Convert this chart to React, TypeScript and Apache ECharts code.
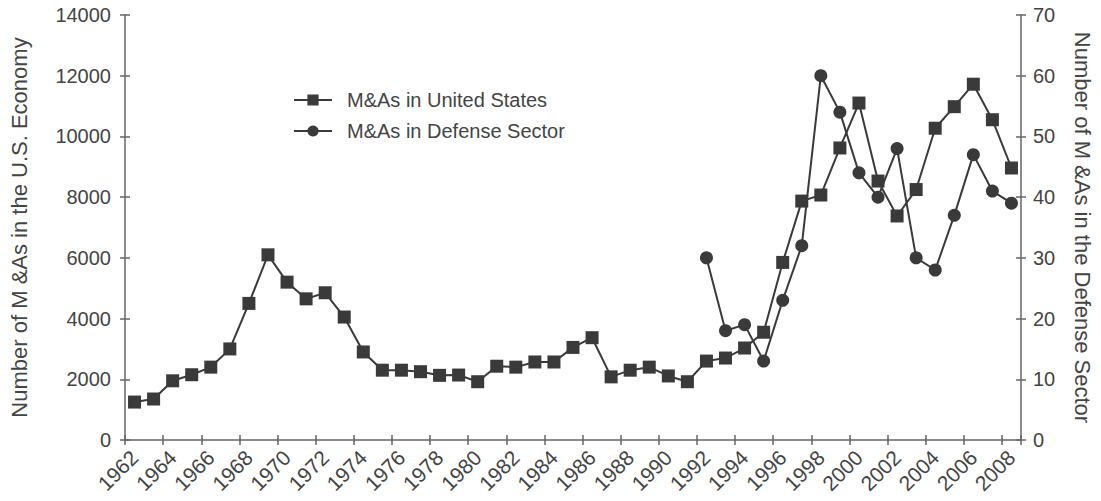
import React, { useEffect, useRef } from "react";
import * as echarts from "echarts";

const years: string[] = [];
for (let y = 1962; y <= 2008; y++) years.push(String(y));

const usMAs: number[] = [
  1250, 1350, 1950, 2150, 2400, 3000, 4500, 6100, 5200, 4650,
  4850, 4050, 2900, 2300, 2300, 2250, 2130, 2140, 1920, 2430,
  2400, 2570, 2570, 3050, 3370, 2080, 2300, 2400, 2110, 1920,
  2600, 2700, 3030, 3550, 5850, 7870, 8070, 9620, 11100, 8530,
  7380, 8250, 10270, 10980, 11720, 10550, 8960,
];

const defenseYears: string[] = [
  "1992", "1993", "1994", "1995", "1996", "1997", "1998", "1999", "2000",
  "2001", "2002", "2003", "2004", "2005", "2006", "2007", "2008",
];
const defenseMAs: number[] = [30, 18, 19, 13, 23, 32, 60, 54, 44, 40, 48, 30, 28, 37, 47, 41, 39];

const leftName = "Number of M &As in the U.S. Economy";
const rightName = "Number of M &As in the Defense Sector";
const usLabel = "M&As in United States";
const defLabel = "M&As in Defense Sector";

const FONT = "Liberation Sans, Arial, Helvetica, sans-serif";
const INK = "#3a3a3a";
const AXIS = "#666";
const TXT = "#444";

export default function App() {
  const ref = useRef<HTMLDivElement>(null);
  useEffect(() => {
    if (!ref.current) return;
    const chart = echarts.init(ref.current, undefined, { renderer: "svg" });
    const defenseData = years.map((y) => {
      const i = defenseYears.indexOf(y);
      return i >= 0 ? defenseMAs[i] : null;
    });
    const plain = (v: number) => String(v);
    chart.setOption({
      animation: false,
      backgroundColor: "#fff",
      textStyle: { fontFamily: FONT },
      grid: { left: 125, right: 78, top: 15, bottom: 61, containLabel: false },
      legend: {
        orient: "vertical",
        left: 288,
        top: 85,
        itemWidth: 38,
        itemHeight: 14,
        itemGap: 11,
        data: [usLabel, defLabel],
        textStyle: { fontSize: 20, color: TXT, fontFamily: FONT, padding: [0, 0, 0, 10], lineHeight: 20 },
      },
      xAxis: [
        {
          type: "category",
          data: years,
          boundaryGap: true,
          position: "bottom",
          axisLine: { lineStyle: { color: AXIS, width: 1.5 } },
          axisTick: { show: true, length: 5, lineStyle: { color: AXIS, width: 1.5 } },
          axisLabel: { interval: 1, rotate: 45, fontSize: 21, color: TXT, fontFamily: FONT, margin: 14 },
          splitLine: { show: false },
        },
        {
          type: "category",
          data: years,
          boundaryGap: true,
          position: "bottom",
          axisLine: { show: false },
          axisTick: { show: true, inside: true, length: 5, lineStyle: { color: AXIS, width: 1.5 } },
          axisLabel: { show: false },
          splitLine: { show: false },
        },
      ],
      yAxis: [
        {
          type: "value",
          position: "left",
          min: 0,
          max: 14000,
          interval: 2000,
          name: leftName,
          nameLocation: "middle",
          nameRotate: 90,
          nameGap: 95,
          nameTextStyle: { fontSize: 22, color: TXT, fontFamily: FONT },
          axisLine: { show: true, lineStyle: { color: AXIS, width: 1.5 } },
          axisTick: { show: true, length: 5, lineStyle: { color: AXIS, width: 1.5 } },
          axisLabel: { fontSize: 20, color: TXT, fontFamily: FONT, margin: 14, formatter: plain },
          splitLine: { show: false },
        },
        {
          type: "value",
          position: "right",
          min: 0,
          max: 70,
          interval: 10,
          name: rightName,
          nameLocation: "middle",
          nameRotate: -90,
          nameGap: 50,
          nameTextStyle: { fontSize: 22, color: TXT, fontFamily: FONT },
          axisLine: { show: true, lineStyle: { color: AXIS, width: 1.5 } },
          axisTick: { show: true, length: 5, lineStyle: { color: AXIS, width: 1.5 } },
          axisLabel: { fontSize: 20, color: TXT, fontFamily: FONT, margin: 12, formatter: plain },
          splitLine: { show: false },
        },
        {
          type: "value",
          position: "left",
          min: 0,
          max: 14000,
          interval: 2000,
          axisLine: { show: false },
          axisTick: { show: true, inside: true, length: 5, lineStyle: { color: AXIS, width: 1.5 } },
          axisLabel: { show: false },
          splitLine: { show: false },
        },
        {
          type: "value",
          position: "right",
          min: 0,
          max: 70,
          interval: 10,
          axisLine: { show: false },
          axisTick: { show: true, inside: true, length: 5, lineStyle: { color: AXIS, width: 1.5 } },
          axisLabel: { show: false },
          splitLine: { show: false },
        },
      ],
      series: [
        {
          name: usLabel,
          type: "line",
          xAxisIndex: 0,
          yAxisIndex: 0,
          data: usMAs,
          symbol: "rect",
          symbolSize: 13,
          showAllSymbol: true,
          itemStyle: { color: INK },
          lineStyle: { color: INK, width: 2 },
        },
        {
          name: defLabel,
          type: "line",
          xAxisIndex: 0,
          yAxisIndex: 1,
          data: defenseData,
          symbol: "circle",
          symbolSize: 13,
          showAllSymbol: true,
          itemStyle: { color: INK },
          lineStyle: { color: INK, width: 2 },
        },
      ],
    });
    return () => chart.dispose();
  }, []);
  return (
    <div
      ref={ref}
      style={{ position: "fixed", left: 0, top: 0, width: 1101, height: 501, background: "#fff" }}
    />
  );
}
